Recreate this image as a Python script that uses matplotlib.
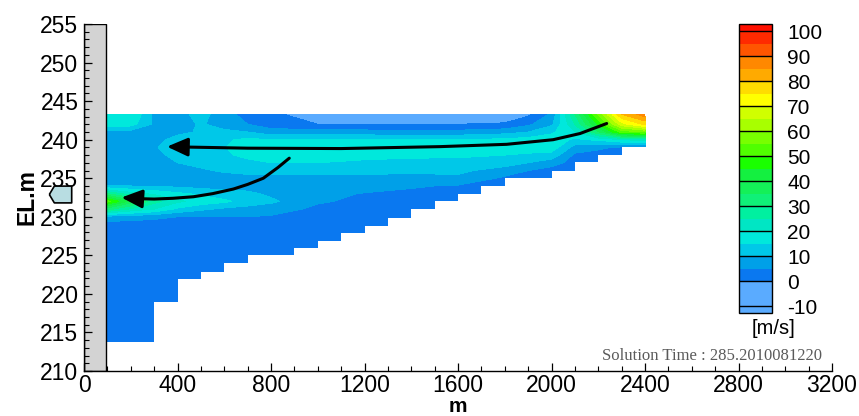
import numpy as np
import matplotlib
matplotlib.use('Agg')
import matplotlib.pyplot as plt
from matplotlib.patches import Rectangle

plt.rcParams['font.family'] = ['Liberation Sans', 'DejaVu Sans']
plt.rcParams['axes.unicode_minus'] = False

# grid nodes (m) and velocity, rows bottom -> top
x_nodes = [100, 200, 300, 400, 500, 600, 700, 800, 1000, 1200, 1400, 1600,
           1800, 1900, 2000, 2100, 2200, 2300, 2400]
z_nodes = [213.8, 228, 229, 230, 231, 232, 233, 234, 235, 236, 237, 238,
           239, 240, 241, 242, 243.3]
speed = [
    [2, 2, 2, 2, 2, 2, 2, 2, 2, 2, 2, 2, 2, 2, 2, 2, 2, 2, 2],
    [2, 2, 2, 2, 2, 2, 2, 2, 2, 2, 2, 2, 2, 2, 2, 2, 2, 2, 2],
    [3, 3, 3, 3, 3, 3, 3, 2, 2.5, 2.5, 2, 2, 2, 2, 2, 2, 2, 2, 2],
    [8, 7, 6, 5, 5, 5, 5, 4.5, 3, 3, 2, 2, 2, 2, 2, 2, 2, 2, 2],
    [32, 24, 20, 14, 11, 9, 8, 7, 4, 3.5, 3, 2.5, 2, 2, 2, 2, 2, 2, 2],
    [52, 38, 27, 21, 18, 16, 13, 11, 5.5, 4, 3.5, 3, 2, 2, 2, 2, 2, 2, 2],
    [30, 22, 19, 16, 14, 12, 11, 9, 6, 4.8, 4, 3, 2.5, 2.5, 2.5, 2, 2, 2, 2],
    [10, 10, 9, 9, 8, 8, 8, 7, 7, 6.5, 5.5, 4.5, 3, 3, 3, 3, 2, 2, 2],
    [7, 7, 7, 7, 8, 8.5, 9, 9, 9, 9, 8.5, 9, 4, 3, 3, 3, 2, 2, 2],
    [7, 7, 7, 8, 9.5, 10.5, 11, 11, 11, 11, 11, 11, 8, 5, 3, 3, 2, 2, 2],
    [7, 7, 7.5, 10, 11, 12.5, 14, 15, 15, 14, 13.5, 13, 12, 10, 7, 3, 3, 3, 3],
    [7, 7, 8.5, 11.5, 12.5, 14.3, 16, 17, 17, 16.5, 16, 16, 15, 14, 13, 4, 3, 3, 3],
    [7, 7, 9.5, 12.5, 13.5, 14.8, 17, 18, 18, 18, 18, 18, 18, 18, 18, 8, 6, 4, 4],
    [7, 7, 8.5, 11.5, 13, 14.3, 16, 15, 15, 15, 15, 15, 16, 17, 18, 14, 16, 20, 22],
    [8, 8, 8, 9, 10.5, 11, 10, 7, 7, 7, 6, 6.5, 8, 10, 14, 20, 34, 52, 55],
    [18, 17, 9, 8, 10.5, 8, 5, 2.5, 0, -0.5, -0.5, 0, 0.5, 4, 9, 25, 46, 68, 76],
    [20, 20, 9, 8, 12, 7, 3, 1.5, -4, -5, -5, -4, -3, -1, 6, 30, 56, 80, 88],
]

# stepped river bed (left edges of columns, bed level of each column)
bed_edges = [100, 300, 400, 500, 600, 700, 900, 1000, 1100, 1200, 1300, 1400,
             1500, 1600, 1700, 1800, 2000, 2100, 2200, 2300, 2400]
bed_level = [213.8, 219.0, 221.9, 222.9, 224.0, 225.0, 225.9, 226.9, 227.9,
             228.8, 229.9, 231.0, 232.1, 233.0, 234.0, 235.0, 236.0, 237.1,
             238.0, 239.1]

# contour levels and colours (Tecplot style)
levels = [-12.7, -10, 0, 5, 10, 15, 20, 25, 30, 35, 40, 45, 50, 55, 60, 65,
          70, 75, 80, 85, 90, 95, 100, 102.8]
band_colors = ['#5aabff', '#5aabff', '#0a78f0', '#00a0e8', '#00c8e8',
               '#00e8dc', '#00e6c4', '#00f0a0', '#10f078', '#14f058',
               '#14f040', '#1aff00', '#50ff00', '#78ff00', '#a8ff00',
               '#d0ff00', '#ffff00', '#ffdc00', '#ffaa00', '#ff8800',
               '#ff5500', '#ff2a00', '#ff1000']
cbar_ticks = [-10, 0, 10, 20, 30, 40, 50, 60, 70, 80, 90, 100]

# flow arrows
arrow1_x = [2236, 2122, 2007, 1808, 1523, 1100, 700, 430]
arrow1_z = [242.1, 240.8, 240.0, 239.4, 239.1, 238.85, 238.9, 239.05]
arrow1_tip = (355, 239.1)
arrow2_x = [878, 830, 767, 700, 639, 550, 468, 380, 300, 235]
arrow2_z = [237.6, 236.4, 235.0, 234.2, 233.6, 233.0, 232.6, 232.4, 232.3, 232.35]
arrow2_tip = (160, 232.5)

dam_width = 93
marker_pos = (-102, 233.0)

fig = plt.figure(figsize=(8.59, 4.16), dpi=100)
ax = fig.add_axes([0.0978, 0.1082, 0.8708, 0.834])

X, Z = np.meshgrid(x_nodes, z_nodes)
ax.contourf(X, Z, np.array(speed), levels=levels, colors=band_colors, zorder=1)

# blank out the area below the bed
bed_top = bed_level + [bed_level[-1]]
ax.fill_between(bed_edges + [2460], 205, bed_top + [205], step='post',
                color='white', lw=0, zorder=1.2)

# dam
ax.add_patch(Rectangle((0, 210), dam_width, 45, fc='#d3d3d3', ec='black',
                       lw=1.0, zorder=1.5))

# arrows
for xs, zs, tip in [(arrow1_x, arrow1_z, arrow1_tip), (arrow2_x, arrow2_z, arrow2_tip)]:
    ax.plot(xs, zs, color='black', lw=2.2, solid_capstyle='round', zorder=3)
    ax.annotate('', xy=tip, xytext=(xs[-1], zs[-1]),
                arrowprops=dict(arrowstyle='-|>,head_length=0.9,head_width=0.4',
                                color='black', lw=2.2, mutation_scale=14,
                                shrinkA=0, shrinkB=0),
                zorder=3)

# small level marker left of the axis
ax.scatter([marker_pos[0]], [marker_pos[1]], s=260, c='#b8dde2', edgecolors='black',
           linewidths=1.2,
           marker=[(-1, 0), (-0.55, 0.75), (1, 0.75), (1, -0.75), (-0.55, -0.75), (-1, 0)],
           clip_on=False, zorder=4)

ax.set_xlim(0, 3200)
ax.set_ylim(210, 255)
ax.set_xticks(range(0, 3201, 400))
ax.set_xticks(range(0, 3201, 100), minor=True)
ax.set_yticks(range(210, 256, 5))
ax.set_yticks(range(210, 256, 1), minor=True)
ax.tick_params(which='both', direction='in', top=False, right=False, labelsize=16.5)
ax.tick_params(which='major', length=6, width=0.9)
ax.tick_params(which='minor', length=3.5, width=0.8)
ax.tick_params(axis='y', pad=4)
ax.tick_params(axis='x', pad=2)
for s in ['top', 'right']:
    ax.spines[s].set_visible(False)
for s in ['left', 'bottom']:
    ax.spines[s].set_linewidth(1.0)
    ax.spines[s].set_zorder(5)
ax.set_xlabel('m', fontsize=15, fontweight='bold', va='center')
ax.xaxis.set_label_coords(0.5, -0.101)
ax.set_ylabel('EL.m', fontsize=16.5, fontweight='bold', labelpad=1)

# colour legend
cax = fig.add_axes([0.8603, 0.2476, 0.0384, 0.6947])
cb = fig.colorbar(ax.collections[0], cax=cax, spacing='proportional')
cb.set_ticks(cbar_ticks)
cb.set_ticklabels([str(t) for t in cbar_ticks])
cax.tick_params(length=0, labelsize=15, pad=11)
for t in cbar_ticks:
    cax.axhline(t, color='black', lw=1.0)
cb.outline.set_linewidth(1.0)
cb.outline.set_edgecolor('black')
fig.text(0.901, 0.2115, '[m/s]', ha='center', va='center', fontsize=14.5)

fig.text(0.957, 0.144, 'Solution Time : 285.2010081220', ha='right', va='center',
         fontsize=12, family='Liberation Serif', color='#5a5a5a')

fig.savefig('out.png', dpi=100)
